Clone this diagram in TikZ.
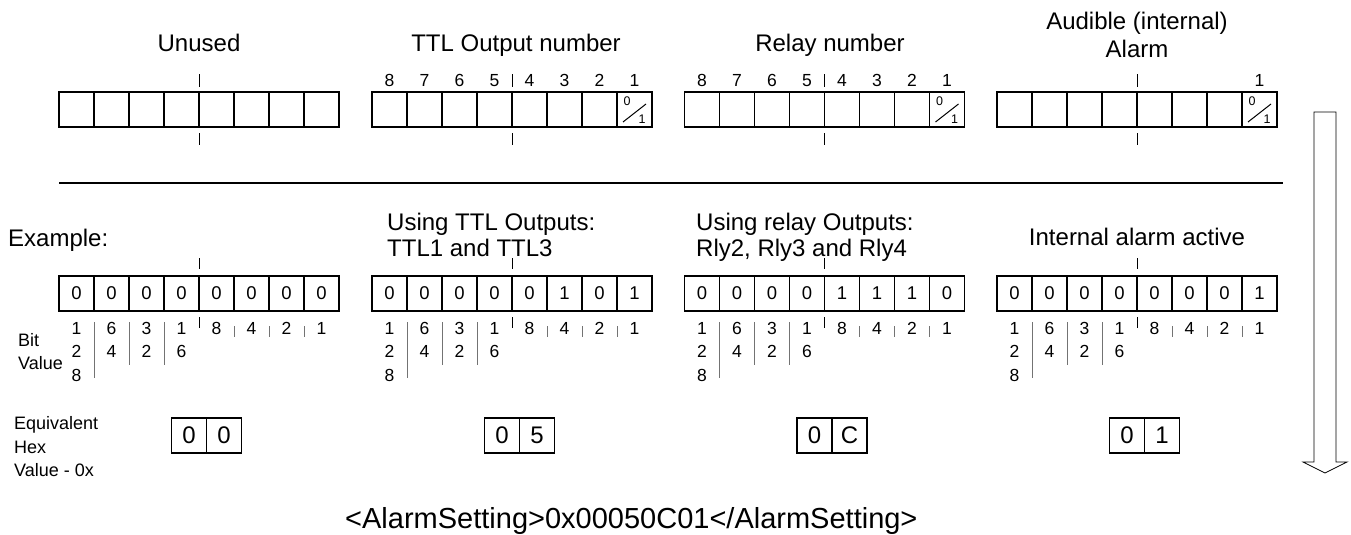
\documentclass[tikz,border=0pt]{standalone}
\usepackage{fontspec}
\setmainfont{Liberation Sans}
\begin{document}
\begin{tikzpicture}[x=1pt,y=-1pt,
  cell/.style={draw, line width=1.35pt, minimum width=35pt, minimum height=35pt, inner sep=0pt, outer sep=0pt, anchor=north west, font=\fontsize{18.5}{20}\selectfont},
  hexcell/.style={cell, font=\fontsize{24}{26}\selectfont},
  title/.style={font=\fontsize{24}{28}\selectfont, inner sep=0pt, anchor=base},
  lbl/.style={font=\fontsize{24}{28}\selectfont, inner sep=0pt, anchor=base west},
  small/.style={font=\fontsize{17.5}{20}\selectfont, inner sep=0pt, anchor=base},
  tiny/.style={font=\fontsize{12.5}{13}\selectfont, inner sep=0pt, anchor=center},
  side/.style={font=\fontsize{18}{20}\selectfont, inner sep=0pt, anchor=base west},
  tick/.style={line width=0.9pt},
  sep/.style={line width=0.8pt, draw=black!55}]
\useasboundingbox (0,0) rectangle (1351,535);

% ---------- top row ----------
\foreach \g/\L in {a/59,b/372,c/684.5,d/997} {
  \foreach \i in {0,...,7} {
    \node[cell] (\g top\i) at ({\L+35*\i},92) {};
  }
  \draw[tick] ({\L+140},74) -- ({\L+140},87);
  \draw[tick] ({\L+140},133) -- ({\L+140},145);
}
% 0/1 marks
\foreach \g/\L in {b/372,c/684.5,d/997} {
  \node[tiny] (\g zero) at ({\L+245+10},101) {0};
  \node[tiny] (\g one) at ({\L+245+25},119) {1};
  \draw[line width=1pt] ({\L+245+6},122) -- ({\L+245+29},104);
}
% bit numbers above
\foreach \g/\L in {b/372,c/684.5} {
  \foreach \n [count=\i from 0] in {8,7,6,5,4,3,2,1} {
    \node[small] (\g num\i) at ({\L+17.5+35*\i},86) {\n};
  }
}
\node[small] (dnum7) at ({997+262.5},86) {1};

% titles
\node[title] (ta) at (199,51.5) {Unused};
\node[title] (tb) at (516,51.5) {TTL Output number};
\node[title] (tc) at (830,51.5) {Relay number};
\node[title] (td1) at (1137,30) {Audible (internal)};
\node[title] (td2) at (1137,58) {Alarm};

% separator line
\draw[line width=1.5pt] (59,183) -- (1283,183);

% ---------- example row ----------
\node[lbl] (ex) at (8,246) {Example:};
\node[lbl] (eb1) at (387,230) {Using TTL Outputs:};
\node[lbl] (eb2) at (387,256) {TTL1 and TTL3};
\node[lbl] (ec1) at (696,230) {Using relay Outputs:};
\node[lbl] (ec2) at (696,256) {Rly2, Rly3 and Rly4};
\node[title] (ed) at (1137,245) {Internal alarm active};

\foreach \g/\L/\bits/\hA/\hB in {a/59/{0,0,0,0,0,0,0,0}/0/0, b/372/{0,0,0,0,0,1,0,1}/0/5, c/684.5/{0,0,0,0,1,1,1,0}/0/C, d/997/{0,0,0,0,0,0,0,1}/0/1} {
  \foreach \v [count=\i from 0] in \bits {
    \node[cell] (\g bot\i) at ({\L+35*\i},276) {\v};
  }
  \draw[tick] ({\L+140},258) -- ({\L+140},269);
  % bit values
  \foreach \txt [count=\i from 0] in {{1,2,8},{6,4},{3,2},{1,6},{8},{4},{2},{1}} {
    \foreach \d [count=\j from 0] in \txt {
      \node[small] (\g bv\i\j) at ({\L+17.5+35*\i},{334+23.5*\j}) {\d};
    }
  }
  \draw[sep] ({\L+35},322) -- ({\L+35},378);
  \draw[sep] ({\L+70},322) -- ({\L+70},365);
  \draw[sep] ({\L+105},322) -- ({\L+105},365);
  \draw[tick] ({\L+140},317) -- ({\L+140},328);
  \foreach \k in {175,210,245} {
    \draw[sep] ({\L+\k},326) -- ({\L+\k},337);
  }
  % hex boxes
  \node[hexcell] (\g hex1) at ({\L+112.5},418) {\hA};
  \node[hexcell] (\g hex2) at ({\L+147.5},418) {\hB};
}

% side labels
\node[side] (bit1) at (18,346.5) {Bit};
\node[side] (bit2) at (18,369.5) {Value};
\node[side] (eq1) at (14,429) {Equivalent};
\node[side] (eq2) at (14,453) {Hex};
\node[side] (eq3) at (14,476) {Value - 0x};

% bottom text
\node[font=\fontsize{29}{32}\selectfont, inner sep=0pt, anchor=base west] (xml) at (345,528) {<AlarmSetting>0x00050C01</AlarmSetting>};

% big arrow
\draw[line width=0.7pt, fill=white] (1314,112) -- (1336,112) -- (1336,462) -- (1347,462) -- (1325,473) -- (1303,462) -- (1314,462) -- cycle;
\end{tikzpicture}
\end{document}
